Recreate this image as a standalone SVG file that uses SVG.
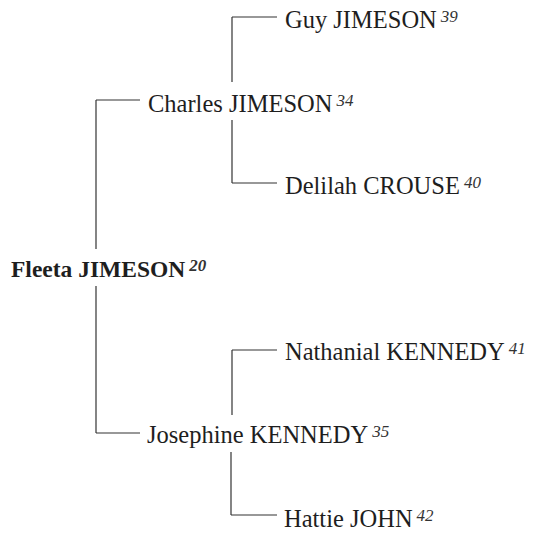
<svg xmlns="http://www.w3.org/2000/svg" width="540" height="538" viewBox="0 0 540 538">
<style>
text{font-family:'Liberation Serif','Tinos','Times New Roman',serif;font-size:24.5px;fill:#1e1e1e}
.b{font-weight:bold;font-size:23.5px}
.s{font-size:17px;font-style:italic;fill:#333}
.c line{stroke:#333;stroke-width:1.2}
</style>
<rect width="540" height="538" fill="#fff"/>
<g class="c" id="connectors">
<line x1="232" y1="17" x2="277" y2="17"/>
<line x1="232" y1="17" x2="232" y2="82"/>
<line x1="232" y1="120" x2="232" y2="183"/>
<line x1="232" y1="183" x2="277" y2="183"/>
<line x1="96" y1="100" x2="140" y2="100"/>
<line x1="96" y1="100" x2="96" y2="249"/>
<line x1="96" y1="286" x2="96" y2="433"/>
<line x1="96" y1="433" x2="140" y2="433"/>
<line x1="232" y1="350" x2="277" y2="350"/>
<line x1="232" y1="350" x2="232" y2="415"/>
<line x1="231" y1="452" x2="231" y2="515"/>
<line x1="231" y1="515" x2="277" y2="515"/>
</g>
<g id="guy"><text x="285" y="28">Guy JIMESON<tspan class="s" dx="4" dy="-6">39</tspan></text></g>
<g id="charles"><text x="148" y="112">Charles JIMESON<tspan class="s" dx="4" dy="-6">34</tspan></text></g>
<g id="delilah"><text x="285" y="194">Delilah CROUSE<tspan class="s" dx="4" dy="-6">40</tspan></text></g>
<g id="fleeta"><text class="b" x="11" y="277">Fleeta JIMESON<tspan class="s" dx="4" dy="-6">20</tspan></text></g>
<g id="nathanial"><text x="285" y="360">Nathanial KENNEDY<tspan class="s" dx="4" dy="-6">41</tspan></text></g>
<g id="josephine"><text x="147" y="443">Josephine KENNEDY<tspan class="s" dx="4" dy="-6">35</tspan></text></g>
<g id="hattie"><text x="284" y="527">Hattie JOHN<tspan class="s" dx="4" dy="-6">42</tspan></text></g>
</svg>
